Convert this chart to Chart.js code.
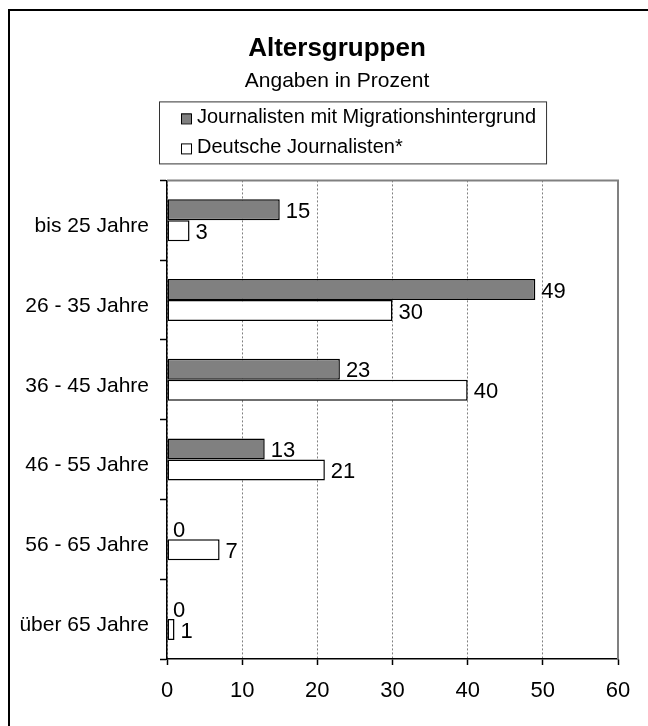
<!DOCTYPE html>
<html>
<head>
<meta charset="utf-8">
<script src="https://cdn.jsdelivr.net/npm/chart.js@4.4.0/dist/chart.umd.min.js"></script>
<style>
  html, body { margin: 0; padding: 0; background: #fff; overflow: hidden; }
  #wrap { position: relative; width: 648px; height: 726px; overflow: hidden; }
  .edge { position: absolute; background: #000; pointer-events: none; }
  #edgeTop { left: 8px; top: 9px; width: 640px; height: 2px; }
  #edgeLeft { left: 8px; top: 9px; width: 2px; height: 717px; }
</style>
</head>
<body>
<div id="wrap">
  <canvas id="ageChart"></canvas>
  <div class="edge" id="edgeTop"></div>
  <div class="edge" id="edgeLeft"></div>
</div>
<script>
const categories = ['bis 25 Jahre', '26 - 35 Jahre', '36 - 45 Jahre', '46 - 55 Jahre', '56 - 65 Jahre', 'über 65 Jahre'];
const migrationValues = [15, 49, 23, 13, 0, 0];
const germanValues = [3, 30, 40, 21, 7, 1];
const seriesNames = ['Journalisten mit Migrationshintergrund', 'Deutsche Journalisten*'];
const xTicks = [0, 10, 20, 30, 40, 50, 60];

const FONT = '"Liberation Sans", Arial, sans-serif';
Chart.defaults.color = '#000';
Chart.defaults.font.family = FONT;

// numbers next to the bars
const valueLabels = {
  id: 'valueLabels',
  afterDatasetsDraw(chart) {
    const ctx = chart.ctx;
    ctx.save();
    ctx.font = '22px ' + FONT;
    ctx.fillStyle = '#000';
    ctx.textBaseline = 'middle';
    chart.data.datasets.forEach((ds, i) => {
      chart.getDatasetMeta(i).data.forEach((bar, j) => {
        ctx.fillText(String(ds.data[j]), bar.x + 6, bar.y + 2);
      });
    });
    ctx.restore();
  }
};

// gray top and right edge of the plot area
const plotFrame = {
  id: 'plotFrame',
  afterLayout(chart) {
    // let the long category labels reach further left than the axis box
    chart.scales.y.left = 0;
  },
  beforeDatasetsDraw(chart) {
    const { ctx, chartArea: a } = chart;
    ctx.save();
    ctx.strokeStyle = '#808080';
    ctx.lineWidth = 2;
    ctx.beginPath();
    ctx.moveTo(a.left, a.top);
    ctx.lineTo(a.right, a.top);
    ctx.lineTo(a.right, a.bottom);
    ctx.stroke();
    ctx.restore();
  }
};

// boxed legend, one series per row
const boxLegend = {
  id: 'boxLegend',
  afterDraw(chart) {
    const { ctx, chartArea: a } = chart;
    const datasets = chart.data.datasets;
    ctx.save();
    ctx.font = '20px ' + FONT;
    const textW = Math.max(...datasets.map(ds => ctx.measureText(ds.label).width));
    const left = a.left - 8;
    const top = a.top - 79;
    const width = 38 + textW + 10;
    const height = 62;
    ctx.strokeStyle = '#333';
    ctx.lineWidth = 1;
    ctx.strokeRect(left + 0.5, top + 0.5, width, height);
    ctx.textBaseline = 'middle';
    datasets.forEach((ds, i) => {
      const rowY = top + 16 + i * 30;
      ctx.fillStyle = ds.backgroundColor;
      ctx.fillRect(left + 22, rowY - 4, 10, 10);
      ctx.strokeStyle = '#000';
      ctx.strokeRect(left + 22.5, rowY - 3.5, 10, 10);
      ctx.fillStyle = '#000';
      ctx.fillText(ds.label, left + 38, rowY);
    });
    ctx.restore();
  }
};

const ageChart = new Chart(document.getElementById('ageChart'), {
  type: 'bar',
  data: {
    labels: categories,
    datasets: [{
      label: seriesNames[0],
      data: migrationValues,
      backgroundColor: '#808080',
      borderColor: '#000',
      borderWidth: 1.5,
      borderSkipped: false
    }, {
      label: seriesNames[1],
      data: germanValues,
      backgroundColor: '#ffffff',
      borderColor: '#000',
      borderWidth: 1.5,
      borderSkipped: false
    }]
  },
  options: {
    indexAxis: 'y',
    responsive: true,
    maintainAspectRatio: false,
    animation: false,
    datasets: {
      bar: { categoryPercentage: 0.526, barPercentage: 1 }
    },
    layout: {
      padding: { left: 56, right: 30, top: 0, bottom: 0 }
    },
    plugins: {
      legend: { display: false },
      tooltip: { enabled: false },
      title: {
        display: true,
        text: 'Altersgruppen',
        color: '#000',
        font: { size: 26, weight: 'bold' },
        padding: { top: 33, bottom: 0 }
      },
      subtitle: {
        display: true,
        text: 'Angaben in Prozent',
        color: '#000',
        font: { size: 21 },
        padding: { top: 4, bottom: 87 }
      }
    },
    scales: {
      x: {
        min: 0,
        max: 60,
        afterBuildTicks: (scale) => {
          scale.ticks = xTicks.map(v => ({ value: v }));
        },
        afterFit: (scale) => { scale.height = 67; },
        grid: {
          color: '#808080',
          lineWidth: 1,
          drawTicks: true,
          tickLength: 6,
          tickColor: '#000',
          tickWidth: 1.5
        },
        border: { display: true, color: '#000', width: 1.5, dash: [2, 2] },
        ticks: {
          color: '#000',
          font: { size: 22 },
          padding: 13,
          maxRotation: 0
        }
      },
      y: {
        afterFit: (scale) => { scale.width = 111; },
        grid: {
          drawOnChartArea: false,
          drawTicks: true,
          tickLength: 7,
          tickColor: '#000',
          tickWidth: 1.5
        },
        border: { display: true, color: '#000', width: 1.5 },
        ticks: {
          color: '#000',
          font: { size: 21 },
          padding: 11,
          labelOffset: 6,
          autoSkip: false
        }
      }
    }
  },
  plugins: [valueLabels, plotFrame, boxLegend]
});
</script>
</body>
</html>
